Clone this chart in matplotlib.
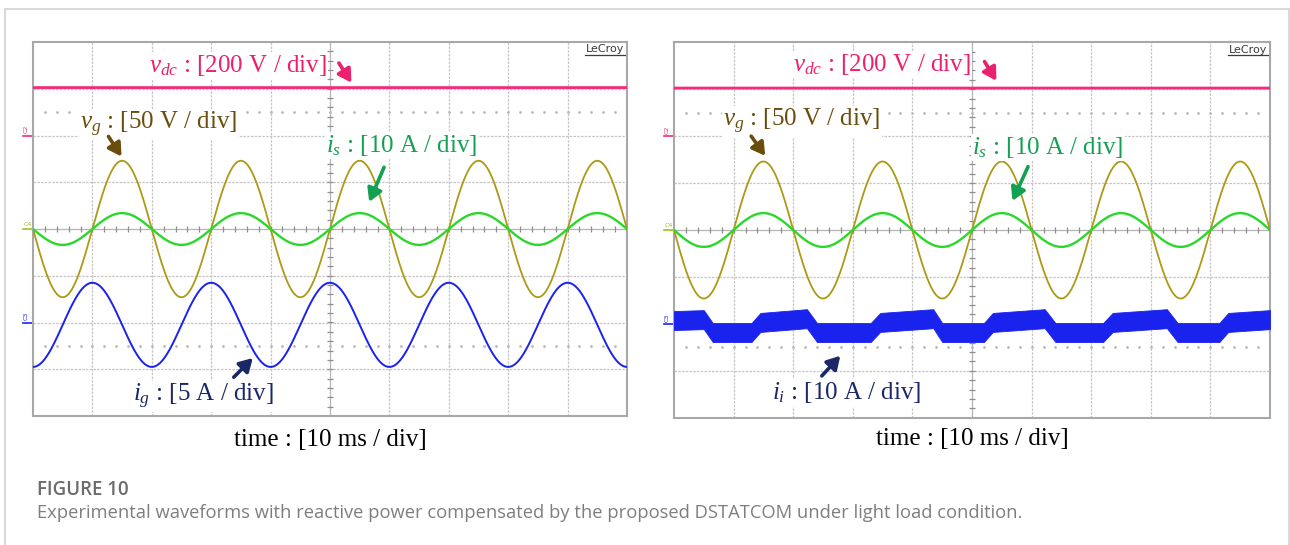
import numpy as np
import matplotlib
matplotlib.use("Agg")
import matplotlib.pyplot as plt
from matplotlib.lines import Line2D

plt.rcParams["mathtext.fontset"] = "custom"
plt.rcParams["mathtext.rm"] = "Liberation Serif"
plt.rcParams["mathtext.it"] = "Liberation Serif:italic"

# ---------------- measured waveform data ----------------
line_freq_hz = 50.0            # grid frequency
time_span_ms = 100.0           # 10 div x 10 ms/div

vdc_level_v = 205.0            # dc-link voltage (both captures)
vg_peak_v = 73.0               # grid voltage amplitude
is_peak_a_left = 3.4           # source current amplitude, capture 1
is_peak_a_right = 3.6          # source current amplitude, capture 2
ig_peak_a = 4.5                # grid-side current amplitude, capture 1
ig_offset_a = -0.25

# inverter current i_i (capture 2): band centre at breakpoints, plus ripple width
ii_t_ms = [0, 5, 6.5, 13, 14.5, 22.3, 24, 33, 34.6, 43.5, 45, 52, 53.5,
           62.2, 64, 72, 73.6, 82.7, 84.5, 91.5, 93, 100]
ii_center_a = [0.7, 0.9, -1.85, -1.85, 0.3, 1.1, -1.85, -1.85, 0.3, 1.1,
               -1.85, -1.85, 0.3, 1.1, -1.85, -1.85, 0.3, 1.1, -1.85, -1.85,
               0.3, 0.9]
ii_ripple_pp_a = 4.05

# channel scales (units per division)
vdc_scale, vg_scale, is_scale, ig_scale, ii_scale = 200.0, 50.0, 10.0, 5.0, 10.0

labels_left = [r"$v_{dc}$ : [200 V / div]", r"$v_g$ : [50 V / div]",
               r"$i_s$ : [10 A / div]", r"$i_g$ : [5 A / div]"]
labels_right = [r"$v_{dc}$ : [200 V / div]", r"$v_g$ : [50 V / div]",
                r"$i_s$ : [10 A / div]", r"$i_i$ : [10 A / div]"]
time_label = "time : [10 ms / div]"
fig_tag = "FIGURE 10"
caption = ("Experimental waveforms with reactive power compensated by the "
           "proposed DSTATCOM under light load condition.")

# ---------------- display settings ----------------
W, H = 1290, 545
C_PINK = "#f52a7c"
C_OLIVE = "#ab9a16"
C_GREEN = "#2ad82a"
C_BLUE = "#1a22ee"
T_PINK = "#ee1f6c"
T_BROWN = "#6a4d0d"
T_GREEN = "#14a052"
T_NAVY = "#1b2766"
GRID = "#c6c6c6"
SERIF = "Liberation Serif"

# channel ground positions in divisions
off_vdc, off_vg, off_is, off_ig = 2.0, 0.0, 0.0, -2.0

fig = plt.figure(figsize=(W / 100, H / 100), dpi=100)
fig.patch.set_facecolor("white")


def px_axes(left, top, right, bottom):
    return fig.add_axes([left / W, 1 - bottom / H, (right - left) / W,
                         (bottom - top) / H])


def scope_screen(ax, width_px):
    ax.set_xlim(0, time_span_ms)
    ax.set_ylim(-4, 4)
    ax.set_xticks([])
    ax.set_yticks([])
    for s in ax.spines.values():
        s.set_color("#a8a8a8")
        s.set_linewidth(1.5)
    for k in range(1, 10):
        if k != 5:
            ax.axvline(k * 10, color=GRID, lw=0.9, ls=(0, (2, 1)), zorder=0)
    for k in range(-3, 4):
        if k != 0:
            ax.axhline(k, color=GRID, lw=0.9, ls=(0, (2, 1)), zorder=0)
    ax.axvline(50, color="#b4b4b4", lw=0.9, zorder=0)
    ax.axhline(0, color="#b4b4b4", lw=0.9, zorder=0)
    xs = np.arange(2, 100, 2)
    ax.plot(xs, np.zeros_like(xs), ls="none", marker="|", ms=4,
            mew=0.9, color="#8e8e8e", zorder=1)
    ys = np.arange(-3.8, 4.0, 0.2)
    ax.plot(np.full_like(ys, 50), ys, ls="none", marker="_", ms=4,
            mew=0.9, color="#8e8e8e", zorder=1)
    for yv in (2.5, -2.5):
        ax.plot(xs, np.full_like(xs, yv, dtype=float), ls="none", marker="o",
                ms=1.0, color="#bababa", zorder=1)
    # LeCroy badge
    ax.text(1 - 2.5 / width_px, 0.9725, "LeCroy", transform=ax.transAxes,
            ha="right", va="baseline", fontsize=8, color="#3c3c3c",
            family="DejaVu Sans", zorder=6)
    ax.plot([1 - 42 / width_px, 1 - 2.5 / width_px], [0.966, 0.966],
            transform=ax.transAxes, color="#3c3c3c", lw=0.9, zorder=6)
    # channel ground markers
    dx = -10 / width_px
    for yv, col, name, rot in ((off_vdc, C_PINK, "C2", 90),
                               (off_is, "#9fbf20", "C4", 0),
                               (off_ig, C_BLUE, "C3", 90)):
        ya = (yv + 4) / 8
        ax.plot([dx, 0], [ya, ya], transform=ax.transAxes, color=col,
                lw=1.2, clip_on=False)
        ax.text(dx + 0.001, ya + 0.006, name, transform=ax.transAxes,
                rotation=rot, ha="left", va="bottom", fontsize=4.5,
                color=col, clip_on=False)


def label(ax, x, y, s, color):
    ax.text(x, y, s, ha="left", va="baseline", fontsize=18, color=color,
            family=SERIF, zorder=7,
            bbox=dict(boxstyle="square,pad=0.05", fc="white", ec="none"))


def arrow(ax, tail, head, color):
    ax.annotate("", xy=head, xytext=tail, zorder=8,
                arrowprops=dict(arrowstyle="-|>,head_length=0.55,head_width=0.32",
                                lw=2.6, color=color, shrinkA=0, shrinkB=0,
                                mutation_scale=14))


t = np.linspace(0, time_span_ms, 3001)
w = 2 * np.pi * line_freq_hz * t / 1000.0

# ---------------- left capture: vdc, vg, is, ig ----------------
ax_l = px_axes(33, 42, 627, 416)
scope_screen(ax_l, 594)
ax_l.plot(t, np.full_like(t, vdc_level_v / vdc_scale + off_vdc), color=C_PINK,
          lw=2.0, zorder=3)
ax_l.plot(t, -vg_peak_v * np.sin(w) / vg_scale + off_vg, color=C_OLIVE,
          lw=1.3, zorder=3)
ax_l.plot(t, -is_peak_a_left * np.sin(w) / is_scale + off_is, color=C_GREEN,
          lw=1.7, zorder=4)
ax_l.plot(t, (-ig_peak_a * np.cos(w) + ig_offset_a) / ig_scale + off_ig,
          color=C_BLUE, lw=1.4, zorder=3)

label(ax_l, 19.6, 3.36, labels_left[0], T_PINK)
arrow(ax_l, (51.5, 3.55), (53.6, 3.13), T_PINK)
label(ax_l, 7.9, 2.13, labels_left[1], T_BROWN)
arrow(ax_l, (12.7, 1.98), (14.9, 1.55), T_BROWN)
label(ax_l, 49.3, 1.65, labels_left[2], T_GREEN)
arrow(ax_l, (59.1, 1.32), (56.6, 0.58), T_GREEN)
label(ax_l, 16.8, -3.69, labels_left[3], T_NAVY)
arrow(ax_l, (33.8, -3.17), (37.0, -2.76), T_NAVY)

fig.text(330 / W, 1 - 446 / H, time_label, ha="center", va="baseline",
         fontsize=18, family=SERIF, color="black")

# ---------------- right capture: vdc, vg, is, ii ----------------
ax_r = px_axes(674, 42.3, 1270, 417.7)
scope_screen(ax_r, 596)
ax_r.plot(t, np.full_like(t, vdc_level_v / vdc_scale + off_vdc), color=C_PINK,
          lw=2.0, zorder=3)
ax_r.plot(t, -vg_peak_v * np.sin(w) / vg_scale + off_vg, color=C_OLIVE,
          lw=1.3, zorder=3)
ax_r.plot(t, -is_peak_a_right * np.sin(w) / is_scale + off_is, color=C_GREEN,
          lw=1.7, zorder=4)
ii_c = np.asarray(ii_center_a)
ax_r.fill_between(ii_t_ms, (ii_c - ii_ripple_pp_a / 2) / ii_scale + off_ig,
                  (ii_c + ii_ripple_pp_a / 2) / ii_scale + off_ig,
                  color=C_BLUE, lw=0.6, edgecolor=C_BLUE, zorder=3)

label(ax_r, 20.0, 3.39, labels_right[0], T_PINK)
arrow(ax_r, (52.1, 3.59), (54.1, 3.18), T_PINK)
label(ax_r, 8.2, 2.2, labels_right[1], T_BROWN)
arrow(ax_r, (12.95, 2.0), (15.3, 1.58), T_BROWN)
label(ax_r, 50.0, 1.62, labels_right[2], T_GREEN)
arrow(ax_r, (59.4, 1.35), (56.8, 0.62), T_GREEN)
label(ax_r, 16.4, -3.61, labels_right[3], T_NAVY)
arrow(ax_r, (24.8, -3.11), (27.9, -2.68), T_NAVY)

fig.text(972 / W, 1 - 445 / H, time_label, ha="center", va="baseline",
         fontsize=18, family=SERIF, color="black")

# ---------------- caption block ----------------
border = "#d6d6d6"
for xs_, ys_ in (([4.5, 4.5], [8.5, H]), ([4.5, 1288.5], [8.5, 8.5]),
                 ([1288.5, 1288.5], [8.5, H])):
    fig.add_artist(Line2D([x / W for x in xs_], [1 - y / H for y in ys_],
                          color=border, lw=1.3))

fig.text(37 / W, 1 - 495 / H, fig_tag, ha="left", va="baseline",
         fontsize=13.4, family="Open Sans", weight="semibold", color="#6b6b6b")
fig.text(37 / W, 1 - 518 / H, caption, ha="left", va="baseline",
         fontsize=13.25, family="Open Sans", color="#7e7e7e")

fig.savefig("out.png", dpi=100, facecolor="white")
